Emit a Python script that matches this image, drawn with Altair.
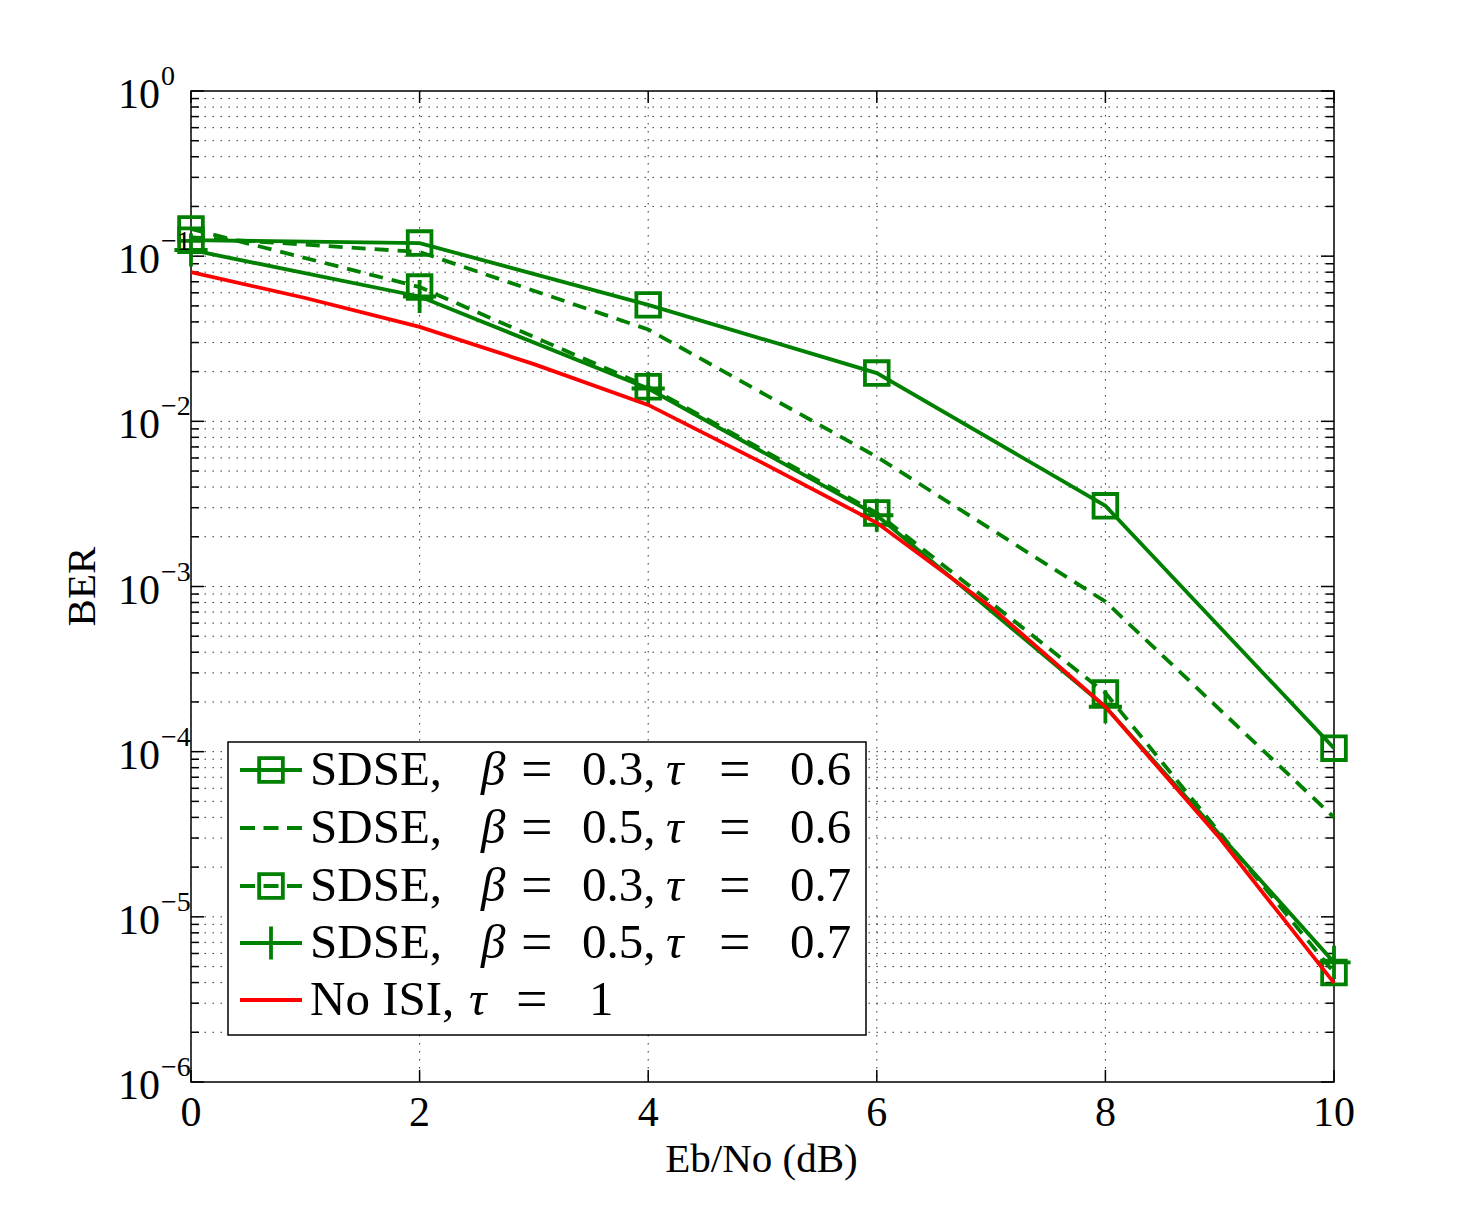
import altair as alt
import pandas as pd

# ---- data ---------------------------------------------------------------
ebno = [0, 2, 4, 6, 8, 10]
ber_b03_t06 = [0.125, 0.120, 0.0507, 0.0196, 0.00308, 1.05e-4]
ber_b05_t06 = [0.130, 0.106, 0.036, 0.0061, 0.00081, 4.0e-5]
ber_b03_t07 = [0.146, 0.065, 0.0162, 0.00279, 0.000227, 4.6e-6]
ber_b05_t07 = [0.109, 0.057, 0.0158, 0.0027, 0.000187, 5.3e-6]

ebno_fine = [0, 1, 2, 3, 4, 5, 6, 7, 8, 9, 10]
ber_no_isi = [0.080, 0.0558, 0.0373, 0.0222, 0.01257, 0.0056, 0.00243,
              0.00075, 0.000187, 3.0e-5, 3.98e-6]

x_tick_values = [0, 2, 4, 6, 8, 10]
y_exponents = [0, -1, -2, -3, -4, -5, -6]

legend_beta = ["0.3", "0.5", "0.3", "0.5"]
legend_tau = ["0.6", "0.6", "0.7", "0.7"]

# ---- layout -------------------------------------------------------------
W, H = 1143, 991
GREEN = "#008000"
RED = "#ff0000"
FONT = "Liberation Serif"
LW = 3.8
DASH = [14, 9]

x_scale = alt.Scale(domain=[0, 10], nice=False)
y_scale = alt.Scale(type="log", domain=[1e-6, 1], nice=False)

decades = [10.0 ** e for e in y_exponents]
minors = [m * 10.0 ** e for e in range(-6, 0) for m in range(2, 10)]


def xq(field):
    return alt.X(f"{field}:Q", scale=x_scale, axis=None)


def yq(field):
    return alt.Y(f"{field}:Q", scale=y_scale, axis=None)


layers = []

# dotted grid
grid_style = dict(color="#333333", strokeDash=[1.5, 6.5], strokeWidth=1)
layers.append(
    alt.Chart(pd.DataFrame({"v": decades + minors}))
    .mark_rule(**grid_style)
    .encode(y=yq("v"))
)
layers.append(
    alt.Chart(pd.DataFrame({"v": x_tick_values}))
    .mark_rule(**grid_style)
    .encode(x=xq("v"))
)

# inward ticks on all four sides
tick_style = dict(color="black", strokeWidth=1.5)
xt = pd.DataFrame({"v": x_tick_values})
layers.append(alt.Chart(xt).mark_rule(**tick_style).encode(
    x=xq("v"), y=alt.value(H), y2=alt.value(H - 12)))
layers.append(alt.Chart(xt).mark_rule(**tick_style).encode(
    x=xq("v"), y=alt.value(0), y2=alt.value(12)))
for vals, ln in ((decades, 13), (minors, 8)):
    d = pd.DataFrame({"v": vals})
    layers.append(alt.Chart(d).mark_rule(**tick_style).encode(
        y=yq("v"), x=alt.value(0), x2=alt.value(ln)))
    layers.append(alt.Chart(d).mark_rule(**tick_style).encode(
        y=yq("v"), x=alt.value(W), x2=alt.value(W - ln)))

# curves
series = [
    (ebno, ber_b03_t06, GREEN, None, "square"),
    (ebno, ber_b05_t06, GREEN, DASH, None),
    (ebno, ber_b03_t07, GREEN, DASH, "square"),
    (ebno, ber_b05_t07, GREEN, None, "plus"),
    (ebno_fine, ber_no_isi, RED, None, None),
]

PLUS = "M-1,0H1M0,-1V1"
for xs, ys, col, dash, marker in series:
    df = pd.DataFrame({"ebno": xs, "ber": ys})
    line_kw = dict(color=col, strokeWidth=LW, clip=False)
    if dash:
        line_kw["strokeDash"] = dash
    layers.append(alt.Chart(df).mark_line(**line_kw).encode(
        x=xq("ebno"), y=yq("ber")))
    if marker == "square":
        layers.append(alt.Chart(df).mark_point(
            shape="square", size=560, filled=False, color=col,
            strokeWidth=LW, opacity=1).encode(x=xq("ebno"), y=yq("ber")))
    elif marker == "plus":
        layers.append(alt.Chart(df).mark_point(
            shape=PLUS, size=1100, filled=False, color=col,
            strokeWidth=LW, opacity=1).encode(x=xq("ebno"), y=yq("ber")))

# y tick labels: 10 with raised exponent
yl = pd.DataFrame({"v": decades,
                   "exp": [("\u2212" + str(-e)) if e < 0 else str(e) for e in y_exponents]})
layers.append(alt.Chart(yl).mark_text(
    font=FONT, fontSize=42, align="right", baseline="middle", dy=4).encode(
    y=yq("v"), x=alt.value(-31), text=alt.value("10")))
layers.append(alt.Chart(yl).mark_text(
    font=FONT, fontSize=28, align="left", baseline="middle", dy=-14).encode(
    y=yq("v"), x=alt.value(-30), text="exp:N"))

# x tick labels
layers.append(alt.Chart(pd.DataFrame({"v": x_tick_values})).mark_text(
    font=FONT, fontSize=42, align="center", baseline="middle").encode(
    x=xq("v"), y=alt.value(H + 31), text=alt.Text("v:Q")))

# axis titles
one = pd.DataFrame({"k": [0]})
layers.append(alt.Chart(one).mark_text(
    font=FONT, fontSize=41, align="center", baseline="middle").encode(
    x=alt.value(W / 2 - 1), y=alt.value(H + 78), text=alt.value("Eb/No (dB)")))
layers.append(alt.Chart(one).mark_text(
    font=FONT, fontSize=41, align="center", baseline="middle", angle=270).encode(
    x=alt.value(-108), y=alt.value(H / 2), text=alt.value("BER")))

# legend box
layers.append(alt.Chart(one).mark_rect(
    fill="white", stroke="black", strokeWidth=1.5).encode(
    x=alt.value(37), x2=alt.value(675), y=alt.value(651), y2=alt.value(944)))

row_y = [679, 737, 795, 852, 909]
samples = [
    (GREEN, None, "square"),
    (GREEN, DASH, None),
    (GREEN, DASH, "square"),
    (GREEN, None, "plus"),
    (RED, None, None),
]
for ry, (col, dash, marker) in zip(row_y, samples):
    kw = dict(color=col, strokeWidth=LW)
    if dash:
        kw["strokeDash"] = [15, 8.5]
    layers.append(alt.Chart(one).mark_rule(**kw).encode(
        x=alt.value(49), x2=alt.value(111), y=alt.value(ry)))
    if marker == "square":
        layers.append(alt.Chart(one).mark_point(
            shape="square", size=560, filled=False, color=col,
            strokeWidth=LW, opacity=1).encode(x=alt.value(80), y=alt.value(ry)))
    elif marker == "plus":
        layers.append(alt.Chart(one).mark_point(
            shape=PLUS, size=1100, filled=False, color=col,
            strokeWidth=LW, opacity=1).encode(x=alt.value(80), y=alt.value(ry)))


def legend_text(x, y, s, italic=False, size=49, dy=0):
    kw = dict(font=FONT, fontSize=size, align="left", baseline="middle")
    if italic:
        kw["fontStyle"] = "italic"
    if dy:
        kw["dy"] = dy
    return alt.Chart(one).mark_text(**kw).encode(
        x=alt.value(x), y=alt.value(y), text=alt.value(s))


EQ_SIZE = 56
for ry, b, t in zip(row_y[:4], legend_beta, legend_tau):
    layers.append(legend_text(119, ry, "SDSE,"))
    layers.append(legend_text(290, ry, "\u03b2", italic=True))
    layers.append(legend_text(330, ry, "=", size=EQ_SIZE, dy=1))
    layers.append(legend_text(391, ry, b + ","))
    layers.append(legend_text(475, ry, "\u03c4", italic=True))
    layers.append(legend_text(528, ry, "=", size=EQ_SIZE, dy=1))
    layers.append(legend_text(599, ry, t))

ry = row_y[4]
layers.append(legend_text(119, ry, "No ISI,"))
layers.append(legend_text(278, ry, "\u03c4", italic=True))
layers.append(legend_text(325, ry, "=", size=EQ_SIZE, dy=1))
layers.append(legend_text(398, ry, "1"))

chart = (
    alt.layer(*layers)
    .properties(
        width=W,
        height=H,
        autosize=alt.AutoSizeParams(type="none"),
        padding={"left": 191, "top": 91, "right": 139, "bottom": 135},
        background="white",
    )
    .configure_view(stroke="black", strokeWidth=1.5)
)

chart.save("out.html", embed_options={"renderer": "svg", "actions": False})
